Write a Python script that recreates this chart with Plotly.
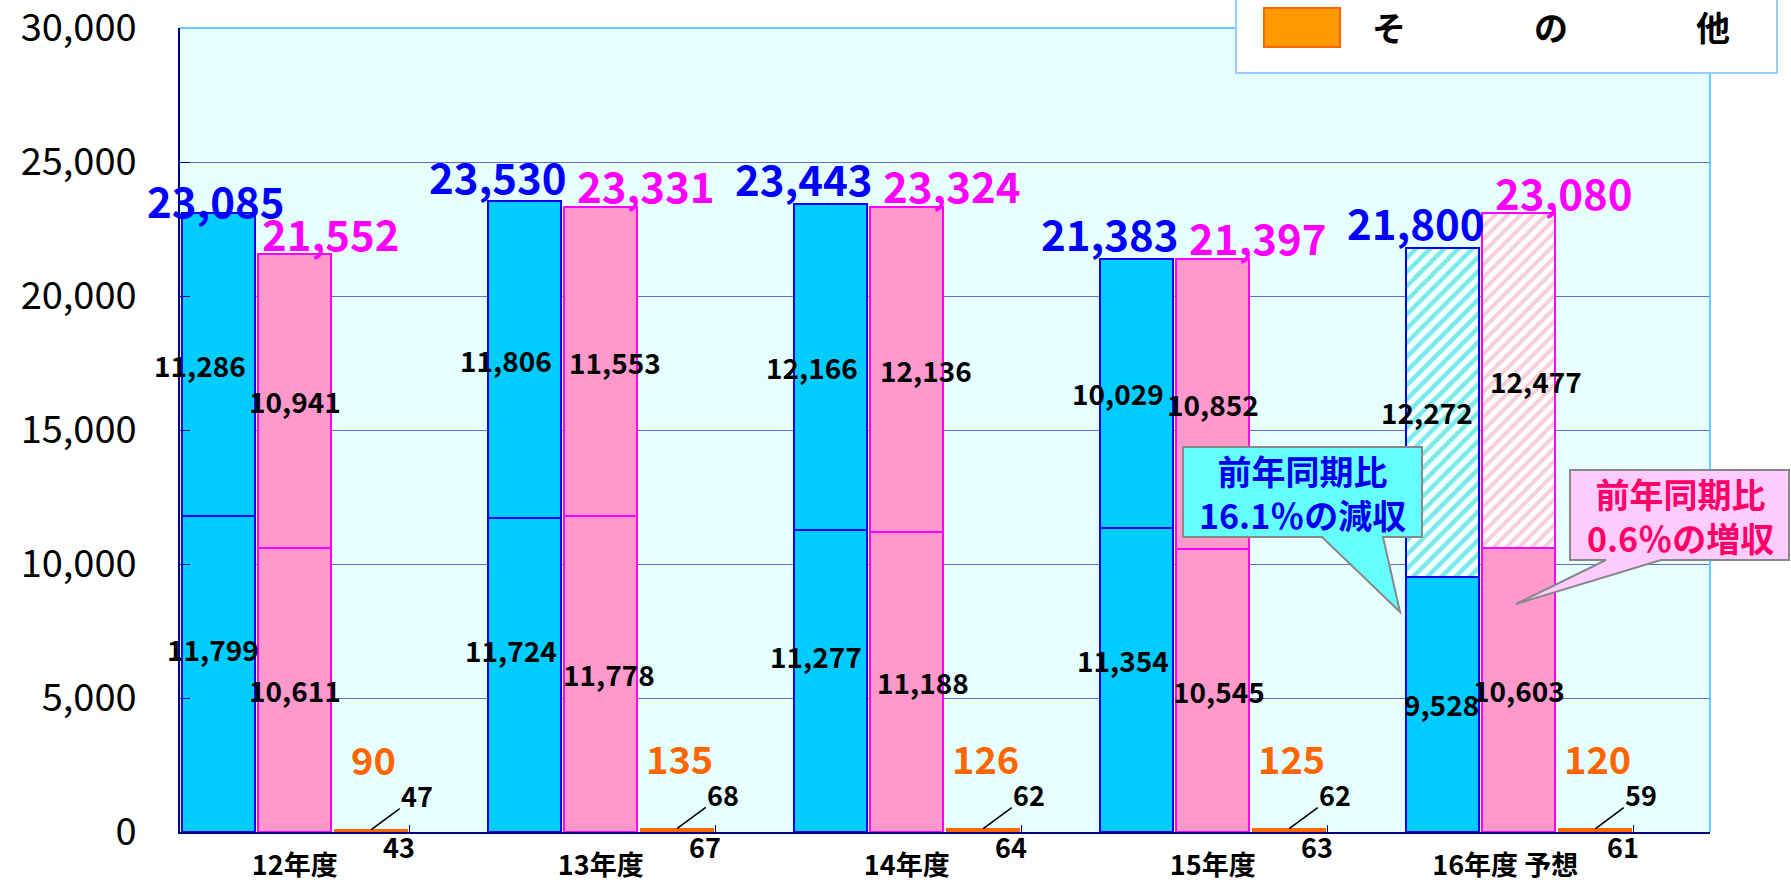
import plotly.graph_objects as go

# ---------------- data ----------------
years = ["12年度", "13年度", "14年度", "15年度", "16年度 予想"]
blue_lower = [11799, 11724, 11277, 11354, 9528]
blue_upper = [11286, 11806, 12166, 10029, 12272]
pink_lower = [10611, 11778, 11188, 10545, 10603]
pink_upper = [10941, 11553, 12136, 10852, 12477]
other_lower = [43, 67, 64, 63, 61]
other_upper = [47, 68, 62, 62, 59]
y_ticks = [0, 5000, 10000, 15000, 20000, 25000, 30000]

FONT = "Noto Sans CJK JP"
BLUE_FILL, BLUE_EDGE = "#00CCFF", "#0000FF"
PINK_FILL, PINK_EDGE = "#FF99CC", "#FF00FF"
ORANGE = "#FF6600"

n = len(years)
xb = [4 * i + 0.5 for i in range(n)]
xp = [4 * i + 1.5 for i in range(n)]
xo = [4 * i + 2.5 for i in range(n)]
xc = [4 * i + 1.5 for i in range(n)]
W = 0.96

fig = go.Figure()

def bar(x, y, fill, edge, lw=2, pattern=None):
    m = dict(color=fill, line=dict(color=edge, width=lw))
    if pattern:
        m["pattern"] = pattern
    fig.add_trace(go.Bar(x=x, y=y, width=W, marker=m, hoverinfo="skip", showlegend=False))

# blue series
bar(xb, blue_lower, BLUE_FILL, BLUE_EDGE)
bar(xb[:-1], blue_upper[:-1], BLUE_FILL, BLUE_EDGE)
bar(xb[-1:], blue_upper[-1:], "#F2FFFF", BLUE_EDGE,
    pattern=dict(shape="/", fgcolor="#00D4D4", bgcolor="#F2FFFF", size=10, solidity=0.45))
# pink series
bar(xp, pink_lower, PINK_FILL, PINK_EDGE)
bar(xp[:-1], pink_upper[:-1], PINK_FILL, PINK_EDGE)
bar(xp[-1:], pink_upper[-1:], "#FFFFFF", PINK_EDGE,
    pattern=dict(shape="/", fgcolor="#EBA0B2", bgcolor="#FFFFFF", size=9, solidity=0.45))
# other
bar(xo, other_lower, ORANGE, ORANGE, lw=1)
bar(xo, other_upper, ORANGE, ORANGE, lw=1)

ann = []

def label(x, y, text, size, color, xshift=0, yshift=0, bold=True, **kw):
    d = dict(x=x, y=y, text=text, showarrow=False, xshift=xshift, yshift=yshift,
             xanchor="center", yanchor="middle",
             font=dict(family=FONT, size=size, color=color, weight="bold" if bold else "normal"))
    d.update(kw)
    ann.append(d)

# style offsets for segment labels (pixels)
blue_up_dx = [-18, -18, -18, -18, -15]
blue_lo_dx = [-5, -13, -14, -13, -1]
blue_lo_dy = [25, 25, 25, 20, 0]
pink_up_dx = [0, 14, 19, 0, 17]
pink_lo_dx = [0, 8, 16, 6, 0]

for i in range(n):
    bt = blue_lower[i] + blue_upper[i]
    pt = pink_lower[i] + pink_upper[i]
    ot = other_lower[i] + other_upper[i]
    # totals
    label(xb[i], bt, f"{bt:,}", 42, "#0000FF", xshift=-26 if i else -2, yshift=26 if i else 14)
    label(xp[i], pt, f"{pt:,}", 42, "#FF00FF", xshift=45 if i else 36, yshift=22)
    label(xo[i], ot, f"{ot:,}", 38, ORANGE, xshift=2, yshift=71)
    # segments
    label(xb[i], blue_lower[i] + blue_upper[i] / 2, f"{blue_upper[i]:,}", 28, "black", xshift=blue_up_dx[i])
    label(xb[i], blue_lower[i] / 2, f"{blue_lower[i]:,}", 28, "black", xshift=blue_lo_dx[i], yshift=blue_lo_dy[i])
    label(xp[i], pink_lower[i] + pink_upper[i] / 2, f"{pink_upper[i]:,}", 28, "black", xshift=pink_up_dx[i])
    label(xp[i], pink_lower[i] / 2, f"{pink_lower[i]:,}", 28, "black", xshift=pink_lo_dx[i])
    # other small labels
    ann.append(dict(x=xo[i], y=ot, text=f"{other_upper[i]:,}", showarrow=True, arrowhead=0,
                    arrowwidth=1.6, arrowcolor="black", ax=46, ay=-34, standoff=0,
                    font=dict(family=FONT, size=27, color="black", weight="bold")))
    label(xo[i], 0, f"{other_lower[i]:,}", 27, "black", xshift=28, yshift=-14)

# ---------------- decorations (pixel helpers) ----------------
L, R, T, B = 180, 1710, 28, 832
def PX(px):
    return (px - L) / (R - L)
def PY(py):
    return (B - py) / (B - T)

def path(points):
    return "M " + " L ".join(f"{PX(x):.5f},{PY(y):.5f}" for x, y in points) + " Z"

shapes = []
# plot top/right borders in light blue
shapes.append(dict(type="line", xref="paper", yref="paper", x0=0, x1=1, y0=1, y1=1,
                   line=dict(color="#66CCFF", width=2), layer="above"))
shapes.append(dict(type="line", xref="paper", yref="paper", x0=1, x1=1, y0=0, y1=1,
                   line=dict(color="#66CCFF", width=2), layer="above"))

# callouts
shapes.append(dict(type="path", xref="paper", yref="paper", layer="above",
                   path=path([(1183, 447), (1422, 447), (1422, 537), (1383, 537), (1400, 612),
                              (1322, 537), (1183, 537)]),
                   fillcolor="#66FFFF", line=dict(color="#888888", width=2)))
shapes.append(dict(type="path", xref="paper", yref="paper", layer="above",
                   path=path([(1570, 470), (1789, 470), (1789, 560), (1661, 560), (1516, 604),
                              (1606, 560), (1570, 560)]),
                   fillcolor="#FFCCFF", line=dict(color="#888888", width=2)))

def pann(px, py, text, size, color):
    ann.append(dict(xref="paper", yref="paper", x=PX(px), y=PY(py), showarrow=False,
                    xanchor="center", yanchor="middle", text=text,
                    font=dict(family=FONT, size=size, color=color, weight="bold")))

pann(1302, 492, "前年同期比<br>16.1％の減収", 34, "#0000EE")
pann(1680, 515, "前年同期比<br>0.6％の増収", 34, "#FF0066")

# legend box (partially above the canvas)
shapes.append(dict(type="rect", xref="paper", yref="paper", layer="above",
                   x0=PX(1236), x1=PX(1777), y0=PY(73), y1=PY(-30),
                   fillcolor="white", line=dict(color="#99CCFF", width=2)))
shapes.append(dict(type="rect", xref="paper", yref="paper", layer="above",
                   x0=PX(1264), x1=PX(1340), y0=PY(47), y1=PY(8),
                   fillcolor="#FF9900", line=dict(color="#FF6600", width=2)))
for ch, px in zip(["そ", "の", "他"], [1389, 1551, 1713]):
    pann(px, 27, ch, 34, "black")

ticktext = [t if i < n - 1 else t + "\u3000" for i, t in enumerate(years)]

fig.update_layout(
    width=1791, height=884,
    margin=dict(l=L, r=1791 - R, t=T, b=884 - B, autoexpand=False),
    paper_bgcolor="white", plot_bgcolor="#E6FFFF",
    barmode="stack", showlegend=False,
    annotations=ann, shapes=shapes,
    font=dict(family=FONT),
    xaxis=dict(range=[0, 20], tickmode="array", tickvals=xc, ticktext=ticktext,
               automargin=False,
               showgrid=False, zeroline=False, showline=True, linecolor="#000080", linewidth=2,
               ticks="", ticklabelstandoff=9,
               tickfont=dict(family=FONT, size=27, color="black", weight="bold"),
               minor=dict(tickmode="array", tickvals=[4 * i + 3 for i in range(n)],
                          ticks="inside", ticklen=7, tickcolor="#000080", showgrid=False)),
    yaxis=dict(range=[0, 30000], tickmode="array", tickvals=y_ticks, tickformat=",",
               automargin=False,
               showgrid=True, gridcolor="#6A6ACC", gridwidth=1, zeroline=False,
               showline=True, linecolor="#000080", linewidth=1.5,
               ticks="inside", ticklen=10, tickcolor="#000080", ticklabelstandoff=34,
               ticklabeloverflow="allow",
               tickfont=dict(family=FONT, size=38, color="black")),
)

fig.write_html("out.html", config={"displayModeBar": False},
               post_script="document.body.style.margin='0';")
